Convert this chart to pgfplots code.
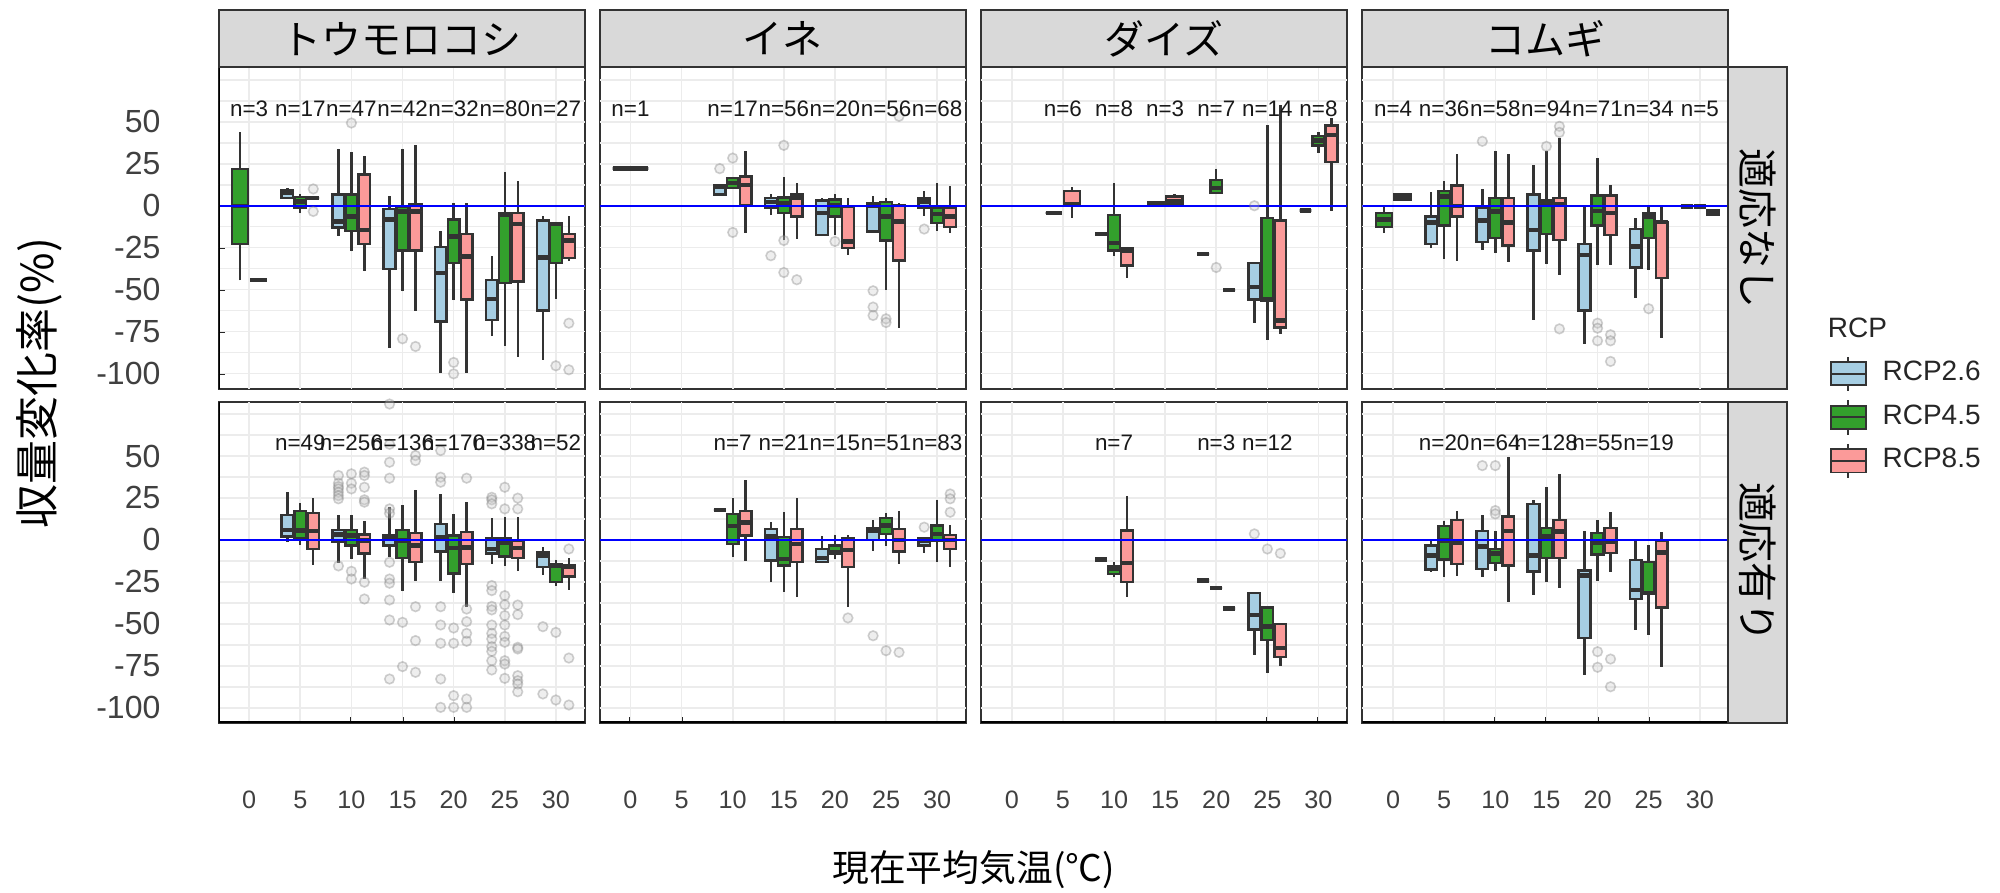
\documentclass[border=0pt]{standalone}
\usepackage{fontspec}
\setmainfont{Liberation Sans}
\newfontfamily\jp{Noto Sans CJK JP}
\usepackage{pgfplots}
\pgfplotsset{compat=1.18}
\usepgfplotslibrary{statistics}
\definecolor{cA}{HTML}{A6CEE3}
\definecolor{cB}{HTML}{33A02C}
\definecolor{cC}{HTML}{FB9A99}
\definecolor{boxline}{HTML}{333333}
\definecolor{stripbg}{HTML}{D9D9D9}

\newcommand\bx[8]{\addplot[boxplot prepared={draw direction=y, draw position=#1, box extend=#2, lower whisker=#3, lower quartile=#4, median=#5, upper quartile=#6, upper whisker=#7, whisker extend=0}, fill=#8, draw=boxline, line width=0.6pt] coordinates {};}
\newcommand\dsh[4]{\bx{#1}{#2}{#3}{#3}{#3}{#3}{#3}{#4}}
\newcommand\outl[1]{\addplot[only marks, mark=*, mark size=1.2pt, mark options={draw=black!55, fill=black!20, opacity=0.33}] coordinates {#1};}
\newcommand\zline{\addplot[blue, line width=0.5pt] coordinates {(-3,0) (32.8,0)};}
\newcommand\nlab[1]{\addplot[only marks, mark=*, mark size=0pt, mark options={draw=none, fill=none}, nodes near coords, point meta=explicit symbolic, nodes near coords style={font=\fontsize{5.6}{6}\selectfont, anchor=center, text=black!90, inner sep=0pt}] coordinates {#1};}
\newcommand\lline{\draw[black, line width=0.75pt] (rel axis cs:0,0) -- (rel axis cs:0,1);}
\newcommand\bline{\draw[black, line width=0.75pt] (rel axis cs:0,0) -- (rel axis cs:1,0);}

\pgfplotsset{
 boxplot/every median/.style={line width=1.1pt, draw=boxline},
 panel/.style={scale only axis, width=91.5pt, height=80.325pt, anchor=south west,
  xmin=-3, xmax=32.8, ymin=-109, ymax=82.5,
  xtick=\empty, ytick=\empty,
  extra x ticks={0,5,10,15,20,25,30}, extra x tick labels={},
  extra y ticks={-100,-87.5,-75,-62.5,-50,-37.5,-25,-12.5,0,12.5,25,37.5,50,62.5,75}, extra y tick labels={},
  extra tick style={grid=major, major tick length=0pt, tick style={draw=none}},
  major grid style={gray!15, line width=0.4pt},
  tick align=inside, major tick length=1.5pt, tick pos=left,
  axis line style={black!80, line width=0.5pt},
  tick style={black!85, line width=0.5pt},
  clip=true},
 ylab/.style={ytick={-100,-75,-50,-25,0,25,50}, yticklabels={-100,-75,-50,-25,0,25,50},
  yticklabel style={font=\fontsize{8}{9.6}\selectfont, text=black!75, xshift=-11pt}},
 xlab/.style={xtick={0,5,10,15,20,25,30}, xticklabels={0,5,10,15,20,25,30},
  xticklabel style={font=\fontsize{6.3}{7.5}\selectfont, text=black!75, yshift=-13.5pt}},
 bxleg/.style={legend image code/.code={
   \draw[##1] (0pt,-2.9pt) rectangle (8.75pt,2.9pt);
   \draw[##1] (0pt,0pt) -- (8.75pt,0pt);
   \draw[##1] (4.375pt,2.9pt) -- (4.375pt,4.3pt);
   \draw[##1] (4.375pt,-2.9pt) -- (4.375pt,-4.3pt);}},
}

\begin{document}
\begin{tikzpicture}
\useasboundingbox (0,0) rectangle (500pt,223pt);

% ---------- Row 1: 適応なし ----------
\begin{axis}[panel, ylab, at={(54.625pt,125.85pt)}]
\outl{(6.27,10) (6.27,-3.4) (10,49.3) (15,-79.3) (16.27,-83.9) (20,-93.4) (20,-100.2) (30,-95.4) (31.27,-97.8) (31.27,-70)}
\bx{-0.9}{1.6}{-44.5}{-22.7}{0}{21.9}{43.7}{cB}
\dsh{0.9}{1.6}{-44.1}{cC}
\bx{3.73}{1.15}{4.2}{4.6}{8}{9.5}{10.5}{cA}
\bx{5}{1.15}{-4.4}{-1.4}{2.6}{5.2}{7}{cB}
\dsh{6.27}{1.15}{4.6}{cC}
\bx{8.73}{1.15}{-18.3}{-12.9}{-9.3}{6.6}{34}{cA}
\bx{10}{1.15}{-27.2}{-14.9}{-6.4}{6.6}{32}{cB}
\bx{11.27}{1.15}{-39.2}{-22.7}{-14.3}{18.5}{29.8}{cC}
\bx{13.73}{1.15}{-84.5}{-37.8}{-8.3}{-2}{6}{cA}
\bx{15}{1.15}{-51.1}{-26.8}{-3.4}{-0.4}{34}{cB}
\bx{16.27}{1.15}{-62.6}{-26.8}{-3.4}{1.2}{36.4}{cC}
\bx{18.73}{1.15}{-99.4}{-69}{-40.2}{-24.7}{-14.9}{cA}
\bx{20}{1.15}{-56}{-34.2}{-18.3}{-8.3}{1.6}{cB}
\bx{21.27}{1.15}{-99.8}{-56}{-30.2}{-16.9}{1.6}{cC}
\bx{23.73}{1.15}{-77.9}{-68}{-55.5}{-44.1}{-29.8}{cA}
\bx{25}{1.15}{-83.5}{-46.1}{-5.4}{-4.4}{19.9}{cB}
\bx{26.27}{1.15}{-89.9}{-45.1}{-10.9}{-4.4}{14.5}{cC}
\bx{28.73}{1.15}{-91.8}{-62.4}{-30.8}{-8.7}{-6}{cA}
\bx{30}{1.15}{-55.5}{-34.2}{-10.9}{-10.3}{-10.3}{cB}
\bx{31.27}{1.15}{-33.2}{-31.2}{-20.7}{-16.9}{-6}{cC}
\zline
\nlab{(0,58) [n=3] (5,58) [n=17] (10,58) [n=47] (15,58) [n=42] (20,58) [n=32] (25,58) [n=80] (30,58) [n=27]}
\lline
\end{axis}

\begin{axis}[panel, at={(149.95pt,125.85pt)}]
\outl{(8.73,22.1) (10,28.4) (10,-15.9) (15,36) (15,-20.7) (13.73,-29.8) (15,-39.8) (16.27,-44.1) (20,-21.3) (23.73,-50.7) (23.73,-60.4) (23.73,-65.4) (25,-67.4) (25,-69.6) (26.27,53.3) (28.73,-13.9)}
\dsh{0}{3.5}{22.3}{cA}
\bx{8.73}{1.15}{5.6}{6.6}{11.5}{12.1}{12.1}{cA}
\bx{10}{1.15}{10.5}{10.5}{13.5}{16.5}{16.5}{cB}
\bx{11.27}{1.15}{-16.3}{0.2}{12.5}{17.5}{32.8}{cC}
\bx{13.73}{1.15}{-5.8}{-1}{2.2}{4.6}{7}{cA}
\bx{15}{1.15}{-20.7}{-4.4}{1.6}{5}{16.9}{cB}
\bx{16.27}{1.15}{-19.7}{-6.4}{4.6}{6.6}{13.5}{cC}
\bx{18.73}{1.15}{-18.3}{-17.3}{-4.4}{3}{4.6}{cA}
\bx{20}{1.15}{-17.3}{-6.4}{0.2}{3.6}{7}{cB}
\bx{21.27}{1.15}{-29.2}{-25.2}{-21.3}{-0.8}{4.6}{cC}
\bx{23.73}{1.15}{-16.3}{-15.3}{0}{1.6}{5.6}{cA}
\bx{25}{1.15}{-50.1}{-20.7}{-6.4}{2.2}{4.6}{cB}
\bx{26.27}{1.15}{-72.6}{-32.6}{-9.3}{0.6}{1.6}{cC}
\bx{28.73}{1.15}{-6.4}{-1}{2.6}{4.6}{8.9}{cA}
\bx{30}{1.15}{-14.9}{-10.3}{-5}{-1.4}{13.5}{cB}
\bx{31.27}{1.15}{-16.3}{-12.7}{-6.4}{-1}{11.5}{cC}
\zline
\nlab{(0,58) [n=1] (10,58) [n=17] (15,58) [n=56] (20,58) [n=20] (25,58) [n=56] (30,58) [n=68]}
\end{axis}

\begin{axis}[panel, at={(245.275pt,125.85pt)}]
\outl{(20,-36.8) (23.73,0)}
\dsh{4.1}{1.6}{-4.4}{cA}
\bx{5.9}{1.6}{-7.4}{0.6}{1}{8.9}{10.9}{cC}
\dsh{8.73}{1.15}{-16.9}{cA}
\bx{10}{1.15}{-30.2}{-26.8}{-22.3}{-5.4}{13.5}{cB}
\bx{11.27}{1.15}{-43.1}{-35.6}{-26.8}{-25.6}{-24.5}{cC}
\bx{14.1}{1.6}{0.6}{0.6}{1.6}{2.2}{2.2}{cA}
\bx{15.9}{1.6}{0.6}{0.6}{2.6}{5.6}{7}{cC}
\dsh{18.73}{1.15}{-28.6}{cA}
\bx{20}{1.15}{7.6}{7.6}{10.5}{15.5}{22.1}{cB}
\dsh{21.27}{1.15}{-50.3}{cC}
\bx{23.73}{1.15}{-70}{-56}{-48.5}{-34.2}{-34.2}{cA}
\bx{25}{1.15}{-79.9}{-56.7}{-56}{-7.4}{47.9}{cB}
\bx{26.27}{1.15}{-76.5}{-72.6}{-68.4}{-8.7}{60.2}{cC}
\dsh{28.73}{1.15}{-2.8}{cA}
\bx{30}{1.15}{31.4}{35.8}{38.8}{41.4}{43.7}{cB}
\bx{31.27}{1.15}{-3.4}{26}{42}{47.9}{52.3}{cC}
\zline
\nlab{(5,58) [n=6] (10,58) [n=8] (15,58) [n=3] (20,58) [n=7] (25,58) [n=14] (30,58) [n=8]}
\end{axis}

\begin{axis}[panel, at={(340.6pt,125.85pt)},
  legend cell align=left,
  legend style={at={(axis description cs:1.2749,0.1052)}, anchor=north west, draw=none, fill=none,
    inner sep=0pt, column sep=4pt, row sep=1.85pt, font=\fontsize{7}{8}\selectfont, text=black!85,
    nodes={inner sep=0pt}}]
\addlegendimage{bxleg, fill=cA, draw=boxline, line width=0.45pt}
\addlegendimage{bxleg, fill=cB, draw=boxline, line width=0.45pt}
\addlegendimage{bxleg, fill=cC, draw=boxline, line width=0.45pt}
\outl{(8.73,38.4) (15,35.4) (16.27,47.3) (16.27,43.7) (16.27,-73.4) (20,-70) (20,-73) (20,-80.5) (21.27,-76.9) (21.27,-80.5) (21.27,-92.8) (25,-61.4)}
\bx{-0.9}{1.6}{-16.3}{-12.7}{-8.3}{-4.4}{0}{cB}
\bx{0.9}{1.6}{3}{3.6}{5.2}{6.6}{7.5}{cC}
\bx{3.73}{1.15}{-25.2}{-22.7}{-9.9}{-6.4}{8}{cA}
\bx{5}{1.15}{-31.6}{-11.7}{5.6}{8.9}{14.5}{cB}
\bx{6.27}{1.15}{-32.8}{-6.4}{0}{12.1}{30.8}{cC}
\bx{8.73}{1.15}{-26.2}{-21.7}{-8.9}{-1.4}{10.1}{cA}
\bx{10}{1.15}{-28.2}{-19.3}{-3.4}{4.6}{32.8}{cB}
\bx{11.27}{1.15}{-33.8}{-23.7}{-9.9}{4.6}{30.8}{cC}
\bx{13.73}{1.15}{-68}{-26.8}{-14.3}{6.6}{24.1}{cA}
\bx{15}{1.15}{-34.8}{-16.9}{1.6}{3}{32.8}{cB}
\bx{16.27}{1.15}{-41.2}{-20.3}{1}{4.6}{40.4}{cC}
\bx{18.73}{1.15}{-82.3}{-62.4}{-29.2}{-22.9}{0}{cA}
\bx{20}{1.15}{-35.6}{-11.7}{-3}{6.2}{28.4}{cB}
\bx{21.27}{1.15}{-35.6}{-17.3}{-4.4}{6.2}{12.1}{cC}
\bx{23.73}{1.15}{-55.1}{-36.8}{-24.3}{-13.9}{-7.4}{cA}
\bx{25}{1.15}{-38.2}{-19.3}{-6.4}{-4.4}{0}{cB}
\bx{26.27}{1.15}{-78.9}{-43.1}{-9.7}{-9.7}{0}{cC}
\dsh{28.73}{1.15}{-0.5}{cA}
\dsh{30}{1.15}{-0.5}{cB}
\bx{31.27}{1.15}{-5.4}{-5.4}{-4}{-2.8}{-2.8}{cC}
\zline
\nlab{(0,58) [n=4] (5,58) [n=36] (10,58) [n=58] (15,58) [n=94] (20,58) [n=71] (25,58) [n=34] (30,58) [n=5]}
\legend{RCP2.6,RCP4.5,RCP8.5}
\end{axis}

% ---------- Row 2: 適応有り ----------
\begin{axis}[panel, ylab, xlab, at={(54.625pt,42.3pt)}]
\outl{(8.73,38.4) (8.73,33.8) (8.73,31.8) (8.73,30.4) (8.73,28.4) (8.73,26.4) (8.73,24.5) (8.73,-15.5) (10,39.4) (10,33.8) (10,30.4) (10,-18.7) (10,-23.3) (11.27,40.4) (11.27,38.4) (11.27,31.4) (11.27,23.9) (11.27,22.5) (11.27,-25.2) (11.27,-35.2)
(13.73,81) (13.73,57) (13.73,46.3) (13.73,36.8) (13.73,18.5) (13.73,15.9) (13.73,-13.3) (13.73,-23.3) (13.73,-25.8) (13.73,-35.8) (13.73,-47.7) (13.73,-82.9) (15,-49.1) (15,-75.5) (16.27,50.3) (16.27,47.3) (16.27,-39.8) (16.27,-60) (16.27,-78.9)
(18.73,53.3) (18.73,37.4) (18.73,34.4) (18.73,-39.8) (18.73,-50.7) (18.73,-61.6) (18.73,-82.9) (18.73,-99.8) (20,-52.5) (20,-61.6) (20,-92.8) (20,-99.8) (21.27,36.8) (21.27,-41.2) (21.27,-48.7) (21.27,-55.7) (21.27,-60.4) (21.27,-94.8) (21.27,-99.8)
(23.73,25.4) (23.73,23.9) (23.73,21.5) (23.73,-27.2) (23.73,-30.2) (23.73,-39.6) (23.73,-41.7) (23.73,-50.7) (23.73,-55.7) (23.73,-59) (23.73,-63.6) (23.73,-66.4) (23.73,-72) (23.73,-77.5)
(25,31.4) (25,18.5) (25,-33.2) (25,-38.6) (25,-45.1) (25,-50.7) (25,-57.5) (25,-61) (25,-72) (25,-74) (25,-82.5)
(26.27,24.9) (26.27,18.5) (26.27,-38.8) (26.27,-44.5) (26.27,-64) (26.27,-65) (26.27,-80.9) (26.27,-83.9) (26.27,-85.9) (26.27,-90.5)
(28.73,-51.7) (28.73,-91.8) (30,-55.1) (30,-95.4) (31.27,-5.4) (31.27,-70.4) (31.27,-98.4)}
\bx{3.73}{1.15}{-1.4}{2}{6}{14.9}{28.4}{cA}
\bx{5}{1.15}{-2.8}{1.2}{5.6}{17.1}{21.9}{cB}
\bx{6.27}{1.15}{-14.7}{-5.4}{5.2}{16.1}{24.9}{cC}
\bx{8.73}{1.15}{-13.9}{-1.4}{3.2}{6}{15.1}{cA}
\bx{10}{1.15}{-11.3}{-3.4}{2.6}{6}{15.1}{cB}
\bx{11.27}{1.15}{-23.3}{-8}{-0.4}{3.2}{11.1}{cC}
\bx{13.73}{1.15}{-10.3}{-3.4}{0.6}{2.6}{19.5}{cA}
\bx{15}{1.15}{-30.6}{-10.7}{-0.4}{6}{20.9}{cB}
\bx{16.27}{1.15}{-24.3}{-13.3}{-3.4}{4}{30}{cC}
\bx{18.73}{1.15}{-24.3}{-6.8}{1.6}{9.5}{27.4}{cA}
\bx{20}{1.15}{-31.8}{-19.9}{-4.8}{2.6}{15.5}{cB}
\bx{21.27}{1.15}{-40.2}{-14.3}{-4.4}{4.6}{22.9}{cC}
\bx{23.73}{1.15}{-14.3}{-8}{-5.4}{1}{13.1}{cA}
\bx{25}{1.15}{-15.3}{-9.9}{-2}{1}{13.9}{cB}
\bx{26.27}{1.15}{-18.7}{-10.9}{-4.8}{-0.4}{13.9}{cC}
\bx{28.73}{1.15}{-20.9}{-16.3}{-9.3}{-7.4}{-4.4}{cA}
\bx{30}{1.15}{-27.2}{-25.2}{-15.3}{-14.3}{-11.7}{cB}
\bx{31.27}{1.15}{-29.6}{-21.7}{-16.3}{-15.3}{-10.9}{cC}
\zline
\nlab{(5,58) [n=49] (10,58) [n=256] (15,58) [n=136] (20,58) [n=170] (25,58) [n=338] (30,58) [n=52]}
\lline
\bline
\end{axis}

\begin{axis}[panel, xlab, at={(149.95pt,42.3pt)}]
\outl{(21.27,-46.5) (23.73,-57.1) (25,-66) (26.27,-67) (28.73,7.6) (31.27,27.4) (31.27,24.5) (31.27,16.5)}
\dsh{8.73}{1.15}{17.9}{cA}
\bx{10}{1.15}{-10.3}{-2.4}{8.2}{15.5}{24.9}{cB}
\bx{11.27}{1.15}{-12.3}{2.6}{10.5}{17.1}{35.8}{cC}
\bx{13.73}{1.15}{-25.2}{-12.3}{2}{6.6}{10.9}{cA}
\bx{15}{1.15}{-30.8}{-15.3}{-11.3}{1.6}{16.5}{cB}
\bx{16.27}{1.15}{-34.2}{-13.3}{-2.4}{6.6}{25}{cC}
\bx{18.73}{1.15}{-13.3}{-13.3}{-10.7}{-5.4}{2.6}{cA}
\bx{20}{1.15}{-11.3}{-8.3}{-7.4}{-3.4}{3.2}{cB}
\bx{21.27}{1.15}{-40.2}{-16.3}{-6}{1.2}{3.2}{cC}
\bx{23.73}{1.15}{-6.8}{0}{5.2}{7.2}{11.9}{cA}
\bx{25}{1.15}{-3.4}{3.6}{8.5}{12.9}{16.1}{cB}
\bx{26.27}{1.15}{-14.3}{-7}{0}{6.6}{17.5}{cC}
\bx{28.73}{1.15}{-8}{-3.4}{-0.4}{1}{1}{cA}
\bx{30}{1.15}{-13.3}{-0.4}{3.6}{8.5}{23.9}{cB}
\bx{31.27}{1.15}{-16.3}{-5.4}{0}{3}{8.9}{cC}
\zline
\nlab{(10,58) [n=7] (15,58) [n=21] (20,58) [n=15] (25,58) [n=51] (30,58) [n=83]}
\bline
\end{axis}

\begin{axis}[panel, xlab, at={(245.275pt,42.3pt)}]
\outl{(23.73,3.6) (25,-5.4) (26.27,-8)}
\dsh{8.73}{1.15}{-11.7}{cA}
\bx{10}{1.15}{-21.9}{-20.3}{-17.3}{-15.7}{-13.3}{cB}
\bx{11.27}{1.15}{-34.2}{-25.2}{-13.9}{5.6}{26.4}{cC}
\dsh{18.73}{1.15}{-24.3}{cA}
\dsh{20}{1.15}{-28.6}{cB}
\dsh{21.27}{1.15}{-40.8}{cC}
\bx{23.73}{1.15}{-68.6}{-53.5}{-44.7}{-31.6}{-31.6}{cA}
\bx{25}{1.15}{-79.5}{-59.6}{-51.7}{-40.2}{-40.2}{cB}
\bx{26.27}{1.15}{-74.9}{-69.6}{-64.4}{-50.1}{-50.1}{cC}
\zline
\nlab{(10,58) [n=7] (20,58) [n=3] (25,58) [n=12]}
\bline
\end{axis}

\begin{axis}[panel, xlab, at={(340.6pt,42.3pt)}]
\outl{(8.73,44.3) (10,44.3) (10,17.5) (10,15.5) (20,-66.6) (20,-75.9) (21.27,-71) (21.27,-87.5)}
\bx{3.73}{1.15}{-18.9}{-17.7}{-9.3}{-3.4}{-0.4}{cA}
\bx{5}{1.15}{-22.3}{-11.7}{-0.4}{8.2}{11.5}{cB}
\bx{6.27}{1.15}{-21.3}{-14.3}{-1.8}{11.9}{17.5}{cC}
\bx{8.73}{1.15}{-21.9}{-17.3}{-3.8}{5.2}{15.1}{cA}
\bx{10}{1.15}{-18.7}{-13.9}{-8}{-5.4}{5.6}{cB}
\bx{11.27}{1.15}{-37.2}{-15.3}{5.2}{13.9}{49.7}{cC}
\bx{13.73}{1.15}{-32.8}{-18.7}{-9.3}{21.5}{23.9}{cA}
\bx{15}{1.15}{-25.2}{-10.9}{2}{7}{31.4}{cB}
\bx{16.27}{1.15}{-28.6}{-10.9}{5}{11.9}{39}{cC}
\bx{18.73}{1.15}{-80.5}{-58.6}{-21.3}{-18.3}{5.6}{cA}
\bx{20}{1.15}{-24.3}{-8.7}{-2}{4}{11.9}{cB}
\bx{21.27}{1.15}{-18.9}{-7.8}{-1.4}{7.2}{16.5}{cC}
\bx{23.73}{1.15}{-53.5}{-35.2}{-29.8}{-11.9}{0}{cA}
\bx{25}{1.15}{-56.5}{-32.2}{-31.8}{-13.3}{-3}{cB}
\bx{26.27}{1.15}{-75.9}{-40.2}{-7.4}{-0.4}{4.6}{cC}
\zline
\nlab{(5,58) [n=20] (10,58) [n=64] (15,58) [n=128] (20,58) [n=55] (25,58) [n=19]}
\bline
\end{axis}

% ---------- strips ----------
\begin{scope}[every path/.style={fill=stripbg, draw=black!80, line width=0.5pt}]
\path (54.625pt,206.175pt) rectangle (146.125pt,220.5pt);
\path (149.95pt,206.175pt) rectangle (241.45pt,220.5pt);
\path (245.275pt,206.175pt) rectangle (336.775pt,220.5pt);
\path (340.6pt,206.175pt) rectangle (432.1pt,220.5pt);
\path (432.1pt,125.85pt) rectangle (446.75pt,206.175pt);
\path (432.1pt,42.3pt) rectangle (446.75pt,122.625pt);
\end{scope}
\begin{scope}[every node/.style={font=\jp\fontsize{10}{12}\selectfont, inner sep=0pt}]
\node at (100.375pt,213.3pt) {トウモロコシ};
\node at (195.7pt,213.3pt) {イネ};
\node at (291.025pt,213.3pt) {ダイズ};
\node at (386.35pt,213.3pt) {コムギ};
\node[rotate=-90] at (439.4pt,166pt) {適応なし};
\node[rotate=-90] at (439.4pt,82.5pt) {適応有り};
\end{scope}

% axis titles and legend title
\node[rotate=90, font=\jp\fontsize{11}{13}\selectfont, inner sep=0pt] at (9.75pt,127.25pt) {収量変化率(\%)};
\node[font=\jp\fontsize{9.2}{11}\selectfont, inner sep=0pt] at (243.4pt,5.6pt) {現在平均気温(℃)};
\node[anchor=west, font=\fontsize{7}{8}\selectfont, text=black!85, inner sep=0pt] at (456.75pt,141pt) {RCP};
\end{tikzpicture}
\end{document}
